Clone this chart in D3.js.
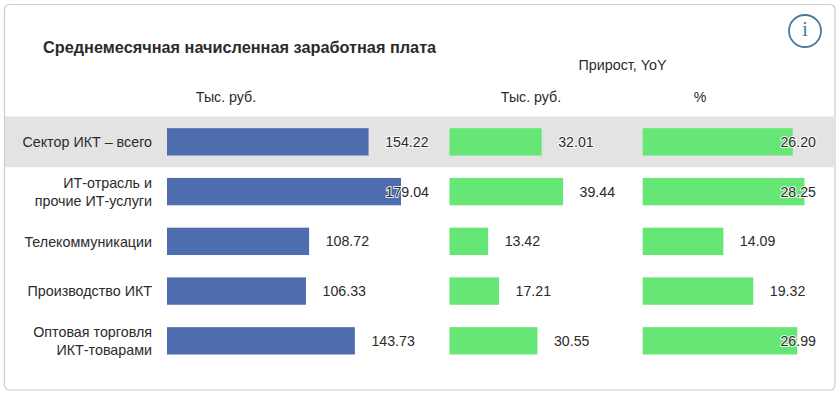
<!DOCTYPE html>
<html><head><meta charset="utf-8">
<script src="https://cdn.jsdelivr.net/npm/d3@7/dist/d3.min.js"></script>
<style>
html,body{margin:0;padding:0;background:#fff}
svg{display:block}
text{font-family:"Liberation Sans",Arial,sans-serif;fill:#2b2b2b}
</style></head><body><svg id="c" width="840" height="395"></svg>
<script>
const categories=[["Сектор ИКТ – всего"],["ИТ-отрасль и","прочие ИТ-услуги"],["Телекоммуникации"],["Производство ИКТ"],["Оптовая торговля","ИКТ-товарами"]];
const salary=[154.22,179.04,108.72,106.33,143.73];
const growthAbs=[32.01,39.44,13.42,17.21,30.55];
const growthPct=[26.20,28.25,14.09,19.32,26.99];
const titleText="Среднемесячная начисленная заработная плата";
const groupHeader="Прирост, YoY";
const colHeaders=["Тыс. руб.","Тыс. руб.","%"];
const blue="#4e6dae",green="#66e675";

const svg=d3.select("#c");
svg.append("rect").attr("x",4.5).attr("y",4.5).attr("width",830.5).attr("height",385.5).attr("rx",5)
  .attr("fill","#fff").attr("stroke","#cdcdcd").attr("stroke-width",1.2);

const y=d3.scaleBand().domain(d3.range(categories.length)).range([117,365.7]).paddingInner(0.45).paddingOuter(0.225);
svg.append("rect").attr("x",5).attr("width",830).attr("y",y(0)+y.bandwidth()/2-25.3).attr("height",50.6).attr("fill","#e3e3e3");

svg.append("text").attr("x",43).attr("y",53).attr("font-size",16.3).attr("font-weight","bold").text(titleText);
svg.append("text").attr("x",622.5).attr("y",70).attr("font-size",14.3).attr("text-anchor","middle").text(groupHeader);

const panels=[
 {values:salary,color:blue,x:d3.scaleLinear().domain([0,200]).range([167,428.4]),offset:60,maxEnd:429,head:226},
 {values:growthAbs,color:green,x:d3.scaleLinear().domain([0,50]).range([449.5,593.5]),offset:52,maxEnd:1e4,head:531},
 {values:growthPct,color:green,x:d3.scaleLinear().domain([0,30]).range([642.7,814.5]),offset:52,maxEnd:816,head:700}
];
panels.forEach((p,i)=>{
  svg.append("text").attr("x",p.head).attr("y",101.5).attr("font-size",14.2).attr("text-anchor","middle").text(colHeaders[i]);
  svg.append("g").selectAll("rect").data(p.values).join("rect")
    .attr("x",p.x(0)).attr("y",(d,j)=>y(j)).attr("height",y.bandwidth())
    .attr("width",d=>p.x(d)-p.x(0)).attr("fill",p.color);
  svg.append("g").selectAll("text").data(p.values).join("text")
    .attr("x",d=>Math.min(p.x(d)+p.offset,p.maxEnd))
    .attr("y",(d,j)=>y(j)+y.bandwidth()/2+5)
    .attr("text-anchor","end").attr("font-size",14.2)
    .attr("stroke","#fff").attr("stroke-width",2).attr("stroke-opacity",0.85).attr("paint-order","stroke")
    .text(d=>d.toFixed(2));
});

const lab=svg.append("g").selectAll("text").data(categories).join("text")
  .attr("text-anchor","end").attr("font-size",14.3);
lab.each(function(lines,j){
  const c=y(j)+y.bandwidth()/2;
  d3.select(this).selectAll("tspan").data(lines).join("tspan")
    .attr("x",152).attr("y",(l,k)=>c+5.3+(k-(lines.length-1)/2)*17.5).text(l=>l);
});

svg.append("circle").attr("cx",805).attr("cy",31).attr("r",16).attr("fill","#fff").attr("stroke","#457ba0").attr("stroke-width",1.8);
svg.append("text").attr("x",805).attr("y",36).attr("text-anchor","middle").attr("font-size",20)
  .style("font-family","'Liberation Serif',serif").style("fill","#457ba0").text("i");
</script></body></html>
